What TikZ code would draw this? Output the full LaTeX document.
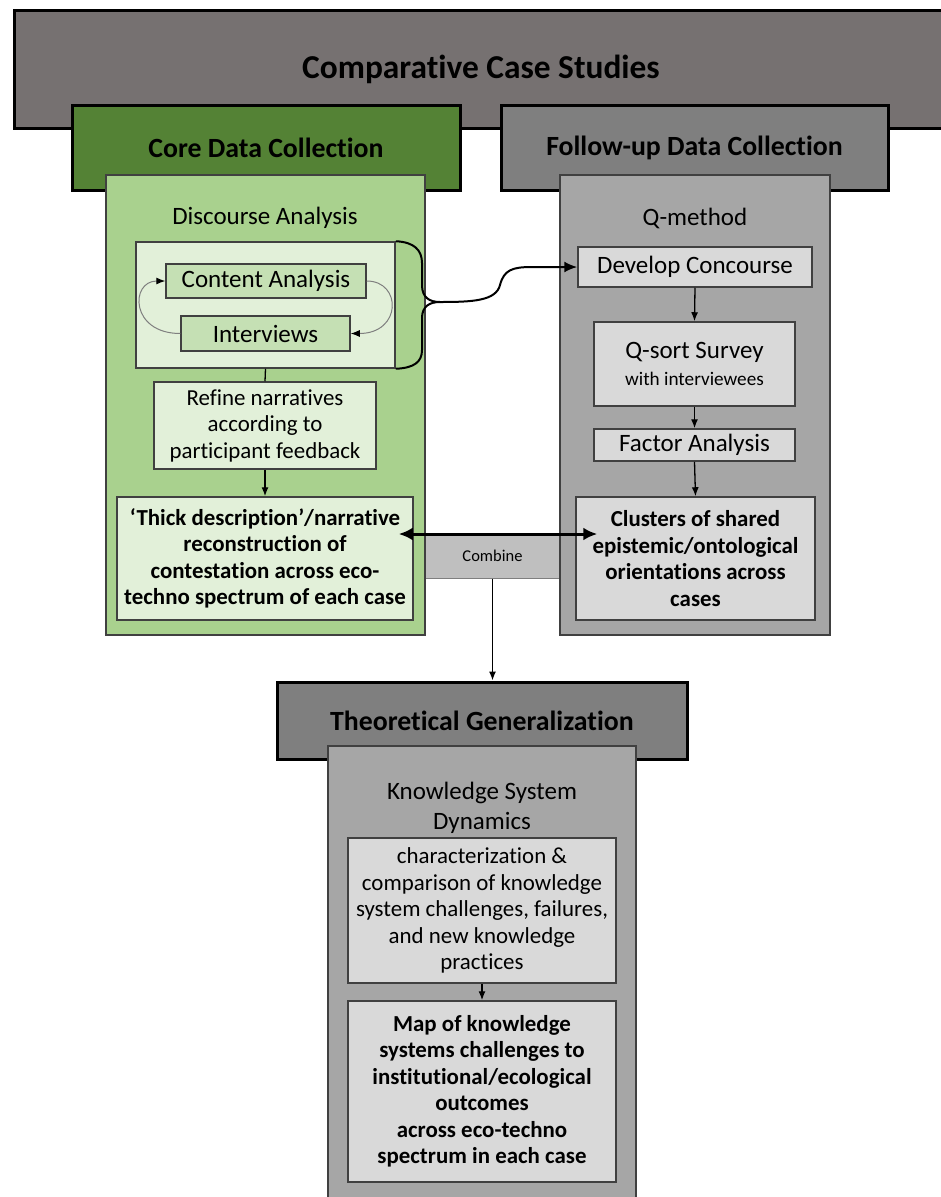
\documentclass[tikz,border=0pt]{standalone}
\usepackage{fontspec}
\setmainfont{Carlito}[Ligatures=NoCommon]
\usepackage{tikz}
\usetikzlibrary{arrows.meta,calc}
\definecolor{casegray}{HTML}{767171}
\definecolor{coregreen}{HTML}{548235}
\definecolor{discgreen}{HTML}{A9D18E}
\definecolor{palegreen}{HTML}{E2F0D9}
\definecolor{midgreen}{HTML}{C5E0B4}
\definecolor{headgray}{HTML}{7F7F7F}
\definecolor{panelgray}{HTML}{A6A6A6}
\definecolor{boxgray}{HTML}{D9D9D9}
\definecolor{combgray}{HTML}{BFBFBF}
\definecolor{edgegray}{HTML}{404040}

\begin{document}
\begin{tikzpicture}[x=1pt, y=-1pt,
    head/.style={draw=black, line width=3pt, inner sep=0pt,
                 font=\fontsize{27.8}{32}\selectfont\bfseries},
    panel/.style={draw=edgegray, line width=1.2pt, inner sep=0pt},
    ttl/.style={align=center, font=\fontsize{25}{30}\selectfont},
    ibox/.style={draw=edgegray, line width=1.5pt, align=center, inner sep=2pt,
                 font=\fontsize{22.9}{26.5}\selectfont},
    bbox/.style={ibox, font=\fontsize{22.9}{26.5}\selectfont\bfseries},
    arr/.style={-{Latex[length=9pt,width=7pt]}, line width=1.3pt},
    cyc/.style={-{Latex[length=9pt,width=7pt,color=black]}, line width=1pt, draw=headgray},
    curly/.style={-{Latex[length=13pt,width=11pt]}, line width=2pt},
    dblarr/.style={{Latex[length=14pt,width=13pt]}-{Latex[length=14pt,width=13pt]}, line width=3pt}
]
\useasboundingbox (0,0) rectangle (940,1197);

\node[head, fill=casegray, minimum width=934pt, minimum height=118pt,
      font=\fontsize{33.4}{38}\selectfont\bfseries] (cases) at (481,69) {Comparative Case Studies};
\node[head, fill=coregreen, minimum width=388pt, minimum height=85pt] (core) at (266,147.5) {Core Data Collection};
\node[head, fill=headgray, minimum width=387pt, minimum height=85pt] (follow) at (694.5,147.5) {Follow-up Data Collection};

\node[draw=headgray, line width=1pt, fill=combgray, minimum width=145pt, minimum height=44pt,
      inner sep=0pt, font=\fontsize{16.5}{20}\selectfont] (combine) at (492.5,556) {Combine};
\node[panel, fill=discgreen, minimum width=319pt, minimum height=460pt] (dpanel) at (265.5,405) {};
\node[panel, fill=panelgray, minimum width=270pt, minimum height=460pt] (qpanel) at (695,405) {};
\node[ttl] (dttl) at (265,218) {Discourse Analysis};
\node[ttl] (qttl) at (695,218) {Q-method};

\node[ibox, fill=palegreen, minimum width=259pt, minimum height=126pt] (igroup) at (265.5,305) {};
\node[ibox, fill=midgreen, minimum width=200pt, minimum height=34pt, font=\fontsize{25}{30}\selectfont] (content) at (266,281) {Content Analysis};
\node[ibox, fill=midgreen, minimum width=169pt, minimum height=35pt, font=\fontsize{25}{30}\selectfont] (interviews) at (265.5,333.5) {Interviews};
\draw[cyc] (interviews.west) .. controls (130,333.5) and (130,281) .. (content.west);
\draw[cyc] (content.east) .. controls (402,281) and (402,333.5) .. (interviews.east);

\coordinate (tip) at (440,302);
\draw[line width=2pt] (igroup.north east) .. controls (414,242) and (422,250) .. (422,263)
    -- (422,285) .. controls (422,298) and (430,302) .. (tip)
    .. controls (430,302) and (422,306) .. (422,318)
    -- (422,350) .. controls (422,362) and (414,368) .. (igroup.south east);

\node[ibox, fill=palegreen, minimum width=222pt, minimum height=87pt] (refine) at (265,425.5)
    {Refine narratives\\according to\\participant feedback};
\node[bbox, fill=palegreen, minimum width=296pt, minimum height=123pt] (thick) at (265,558.5)
    {‘Thick description’/narrative\\reconstruction of\\contestation across eco-\\techno spectrum of each case};
\draw[line width=1.3pt] (igroup.south) -- (refine.north);
\draw[arr] (refine.south) -- (thick.north);

\node[ibox, fill=boxgray, minimum width=234pt, minimum height=40pt, font=\fontsize{25}{30}\selectfont] (concourse) at (695,267) {Develop Concourse};
\node[ibox, fill=boxgray, minimum width=201pt, minimum height=84pt, font=\fontsize{25}{27}\selectfont] (qsort) at (694.5,364)
    {Q-sort Survey\\{\fontsize{19.2}{22}\selectfont with interviewees}};
\node[ibox, fill=boxgray, minimum width=201pt, minimum height=32pt, font=\fontsize{25}{30}\selectfont] (factor) at (694.5,445) {Factor Analysis};
\node[bbox, fill=boxgray, minimum width=239pt, minimum height=123pt] (clusters) at (695.5,558.5)
    {Clusters of shared\\epistemic/ontological\\orientations across\\cases};
\draw[arr] (concourse.south) -- (qsort.north);
\draw[arr] (qsort.south) -- (factor.north);
\draw[arr] (factor.south) -- (clusters.north);

\draw[curly] (tip) .. controls (472,302) and (496,301) .. (500,285)
    .. controls (504,270) and (512,267) .. (532,267) -- (concourse.west);
\draw[dblarr] ([xshift=-15pt,yshift=24.5pt]thick.east) -- ([xshift=22pt,yshift=24.5pt]clusters.west);

\node[head, fill=headgray, minimum width=410pt, minimum height=77pt] (theo) at (482,720.5) {Theoretical Generalization};
\draw[arr] (combine.south) -- (combine.south |- theo.north);
\node[panel, fill=panelgray, minimum width=308pt, minimum height=470pt] (kpanel) at (482,981) {};
\node[ttl] (kttl) at (482,808) {Knowledge System\\Dynamics};
\node[ibox, fill=boxgray, minimum width=268pt, minimum height=145pt] (charac) at (482,910.5)
    {characterization \&\\comparison of knowledge\\system challenges, failures,\\and new knowledge\\practices};
\node[bbox, fill=boxgray, minimum width=268pt, minimum height=181pt] (mapbox) at (482,1091.5)
    {Map of knowledge\\systems challenges to\\institutional/ecological\\outcomes\\across eco-techno\\spectrum in each case};
\draw[arr] (charac.south) -- (mapbox.north);
\end{tikzpicture}
\end{document}
